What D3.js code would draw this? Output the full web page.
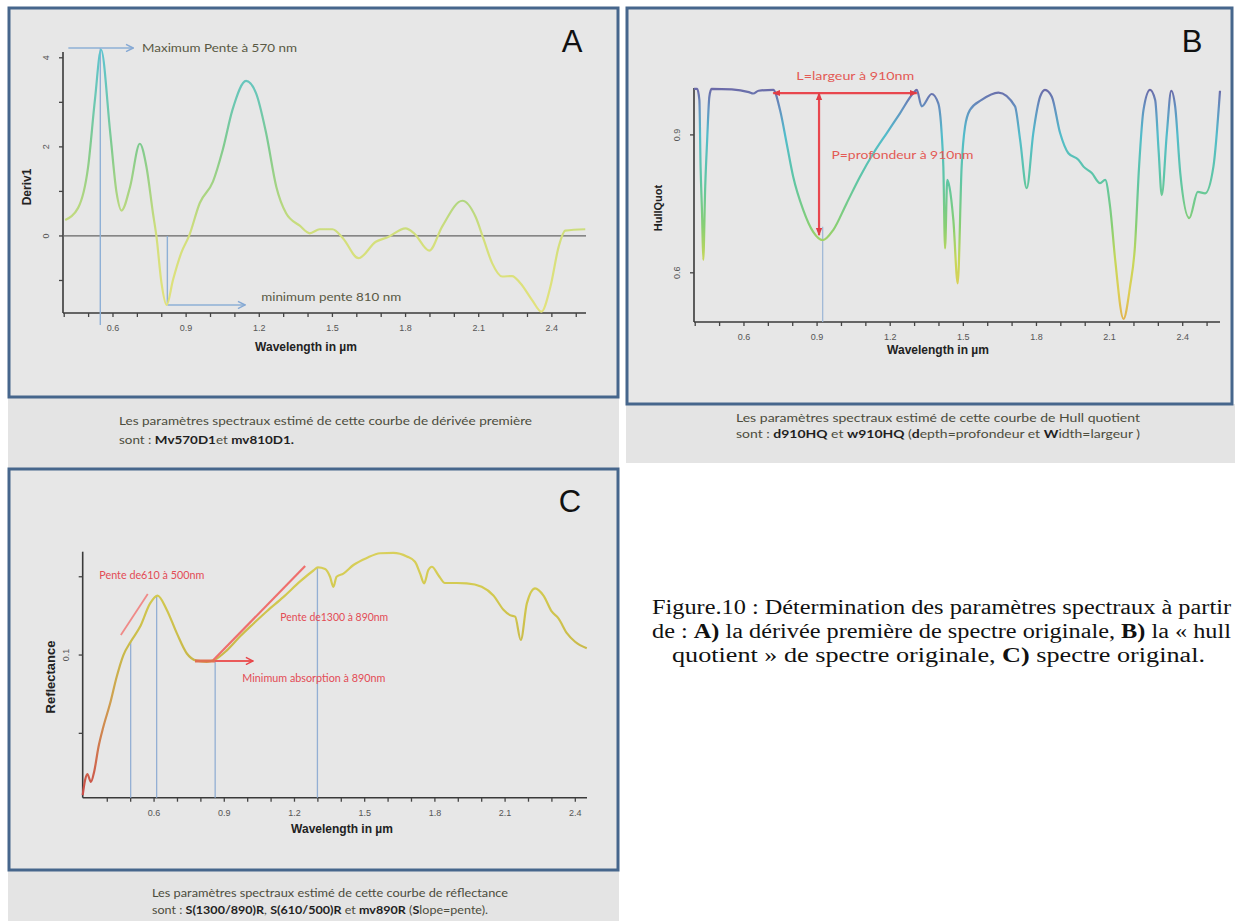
<!DOCTYPE html>
<html>
<head>
<meta charset="utf-8">
<script src="https://cdn.jsdelivr.net/npm/d3@7"></script>
<style>
  html, body { margin: 0; padding: 0; background: #ffffff; }
  svg { display: block; }
</style>
</head>
<body>
<svg id="chart" width="1235" height="921"></svg>
<script>
// ---------------- DATA ----------------
// Panel A : first derivative (Deriv1) vs wavelength (µm)
const waveA  = [0.404,0.457,0.498,0.526,0.551,0.589,0.615,0.635,0.67,0.71,0.737,0.764,0.778,0.799,0.82,0.846,0.88,0.912,0.956,1.01,1.05,1.09,1.146,1.187,1.228,1.27,1.31,1.366,1.407,1.448,1.5,1.543,1.607,1.678,1.726,1.80,1.835,1.897,1.95,2.033,2.087,2.121,2.155,2.196,2.237,2.271,2.319,2.357,2.394,2.428,2.455,2.537];
const derivA = [0.36,0.63,1.55,3.06,4.18,2.3,0.96,0.57,1.1,2.07,1.56,0.51,0,-1.06,-1.55,-0.99,-0.38,0,0.74,1.22,1.93,2.83,3.48,3.2,2.31,1.1,0.51,0.23,0.06,0.15,0.15,-0.05,-0.5,-0.13,-0.03,0.17,0.06,-0.33,0.21,0.79,0.43,-0.09,-0.61,-0.91,-0.9,-1.06,-1.44,-1.7,-1.14,-0.24,0.12,0.15];

// Panel B : hull quotient vs wavelength (µm)
const waveB = [0.395,0.408,0.417,0.422,0.428,0.433,0.441,0.449,0.458,0.467,0.55,0.62,0.638,0.66,0.72,0.748,0.775,0.802,0.843,0.884,0.923,0.966,1.021,1.076,1.131,1.186,1.24,1.295,1.309,1.329,1.37,1.397,1.411,1.418,1.425,1.434,1.443,1.459,1.477,1.493,1.507,1.527,1.575,1.644,1.712,1.733,1.76,1.787,1.815,1.835,1.863,1.897,1.931,1.972,1.993,2.027,2.061,2.082,2.102,2.123,2.157,2.184,2.204,2.221,2.239,2.266,2.287,2.301,2.314,2.335,2.353,2.369,2.39,2.427,2.462,2.492,2.526,2.553];
const hullB = [1.0,1.0,0.976,0.831,0.73,0.628,0.787,0.889,0.983,1.0,0.999,0.993,0.99,0.996,0.998,0.954,0.882,0.809,0.737,0.689,0.671,0.693,0.751,0.809,0.86,0.904,0.947,0.991,0.998,0.962,0.989,0.969,0.904,0.831,0.653,0.802,0.787,0.715,0.577,0.831,0.918,0.954,0.976,0.992,0.962,0.889,0.784,0.904,0.983,0.998,0.983,0.904,0.86,0.846,0.831,0.817,0.795,0.802,0.744,0.628,0.5,0.57,0.657,0.831,0.954,0.998,0.976,0.867,0.769,0.904,0.996,0.962,0.817,0.719,0.776,0.773,0.831,0.996];

// Panel C : reflectance vs wavelength (µm)
const waveC = [0.295,0.305,0.315,0.33,0.344,0.362,0.383,0.412,0.44,0.469,0.5,0.54,0.583,0.615,0.654,0.697,0.74,0.782,0.825,0.861,0.911,0.968,1.024,1.082,1.152,1.224,1.281,1.3,1.331,1.352,1.366,1.38,1.409,1.452,1.509,1.566,1.623,1.68,1.715,1.737,1.754,1.772,1.787,1.815,1.843,1.894,1.936,2.0,2.05,2.093,2.121,2.143,2.167,2.193,2.228,2.264,2.3,2.328,2.364,2.399,2.449];
const reflC = [0.0106,0.020,0.024,0.019,0.0255,0.041,0.054,0.069,0.086,0.1,0.1085,0.118,0.133,0.138,0.129,0.114,0.101,0.0964,0.0957,0.0972,0.103,0.112,0.120,0.128,0.137,0.147,0.154,0.156,0.155,0.150,0.1436,0.150,0.152,0.1575,0.162,0.165,0.1653,0.163,0.1596,0.152,0.1458,0.1543,0.1564,0.151,0.146,0.146,0.1458,0.1436,0.138,0.129,0.1255,0.1245,0.1096,0.133,0.1426,0.138,0.1277,0.1234,0.114,0.1085,0.1043];

// Tick labels
const xTickLabels = ["0.6","0.9","1.2","1.5","1.8","2.1","2.4"];
const xMinorTicks = [0.4,0.5,0.6,0.7,0.8,0.9,1.0,1.1,1.2,1.3,1.4,1.5,1.6,1.7,1.8,1.9,2.0,2.1,2.2,2.3,2.4,2.5];
const yTickLabelsA = ["0","2","4"];
const yMinorTicksA = [-1,1,3];
const yTickLabelsB = ["0.6","0.9"];
const yTickLabelsC = ["0.1"];
const yMinorTicksC = [0.05,0.15];

// Annotation texts
const captionA = ["Les paramètres spectraux estimé de cette courbe de dérivée première"];
const captionB = ["Les paramètres spectraux estimé de cette courbe de Hull quotient"];
const captionC = ["Les paramètres spectraux estimé de cette courbe de réflectance"];

// ---------------- DRAWING ----------------
const svg = d3.select("#chart");
const defs = svg.append("defs");
const FRAME = "#46668c", PANEL = "#e7e7e7", BAND = "#e4e4e4";
const SANS = "'Liberation Sans', Arial, sans-serif";
const CAP = "Lato, 'Open Sans', sans-serif";

// markers
function chevron(id, color) {
  defs.append("marker").attr("id", id).attr("viewBox", "0 0 10 10")
    .attr("refX", 9).attr("refY", 5).attr("markerWidth", 9).attr("markerHeight", 9)
    .attr("markerUnits", "userSpaceOnUse").attr("orient", "auto")
    .append("path").attr("d", "M1,1 L9,5 L1,9").attr("fill", "none")
    .attr("stroke", color).attr("stroke-width", 1.6);
}
function tri(id, color) {
  defs.append("marker").attr("id", id).attr("viewBox", "0 0 10 10")
    .attr("refX", 9).attr("refY", 5).attr("markerWidth", 8).attr("markerHeight", 8)
    .attr("markerUnits", "userSpaceOnUse").attr("orient", "auto-start-reverse")
    .append("path").attr("d", "M0,1 L10,5 L0,9 Z").attr("fill", color);
}
chevron("blueArrow", "#86a9d4");
chevron("redArrow", "#e8454a");
tri("redTri", "#e03c45");

// backgrounds: caption bands then panel frames
svg.append("rect").attr("x", 8).attr("y", 397).attr("width", 611).attr("height", 71).attr("fill", BAND);
svg.append("rect").attr("x", 626).attr("y", 404).attr("width", 609).attr("height", 59).attr("fill", BAND);
svg.append("rect").attr("x", 8).attr("y", 870).attr("width", 611).attr("height", 51).attr("fill", BAND);

function frame(x, y, w, h) {
  svg.append("rect").attr("x", x).attr("y", y).attr("width", w).attr("height", h)
    .attr("fill", PANEL).attr("stroke", FRAME).attr("stroke-width", 3);
}
frame(9, 8, 609, 389);
frame(627, 8, 605, 396);
frame(9, 469, 609, 401);

function gradient(id, yScale, stops) {
  const v0 = stops[0][0], v1 = stops[stops.length - 1][0];
  const g = defs.append("linearGradient").attr("id", id).attr("gradientUnits", "userSpaceOnUse")
    .attr("x1", 0).attr("x2", 0).attr("y1", yScale(v0)).attr("y2", yScale(v1));
  stops.forEach(s => g.append("stop").attr("offset", (s[0] - v0) / (v1 - v0)).attr("stop-color", s[1]));
}

function drawAxes(g, x, y, opt) {
  const [x0, x1] = x.range();
  const [yb, yt] = y.range();
  // axes lines
  g.append("line").attr("x1", x0).attr("x2", x1).attr("y1", yb).attr("y2", yb)
    .attr("stroke", "#3a3a3a").attr("stroke-width", 1.6);
  g.append("line").attr("x1", x0).attr("x2", x0).attr("y1", yb).attr("y2", yt)
    .attr("stroke", "#3a3a3a").attr("stroke-width", 1.6);
  // x ticks
  xMinorTicks.filter(t => t >= x.domain()[0] && t <= x.domain()[1]).forEach(t => {
    g.append("line").attr("x1", x(t)).attr("x2", x(t)).attr("y1", yb).attr("y2", yb + 4)
      .attr("stroke", "#444").attr("stroke-width", 1.3);
  });
  xTickLabels.forEach(l => {
    g.append("text").attr("x", x(+l)).attr("y", yb + 15).attr("dy", "0.35em")
      .attr("text-anchor", "middle").attr("font-family", SANS).attr("font-size", 9)
      .attr("fill", "#555").text(l);
  });
  // y ticks
  opt.yMinor.forEach(t => {
    g.append("line").attr("x1", x0 - 4).attr("x2", x0).attr("y1", y(t)).attr("y2", y(t))
      .attr("stroke", "#444").attr("stroke-width", 1.3);
  });
  opt.yLabels.forEach(l => {
    g.append("line").attr("x1", x0 - 4).attr("x2", x0).attr("y1", y(+l)).attr("y2", y(+l))
      .attr("stroke", "#444").attr("stroke-width", 1.3);
    g.append("text").attr("transform", `translate(${x0 - 14},${y(+l)}) rotate(-90)`)
      .attr("text-anchor", "middle").attr("font-family", SANS).attr("font-size", 9)
      .attr("fill", "#555").text(l);
  });
  // titles
  g.append("text").attr("x", opt.xtPos[0]).attr("y", opt.xtPos[1]).attr("dy", "0.35em")
    .attr("text-anchor", "middle").attr("font-family", SANS).attr("font-weight", "bold")
    .attr("font-size", 12).attr("fill", "#222").text("Wavelength in µm");
  g.append("text").attr("transform", `translate(${opt.ytPos[0]},${opt.ytPos[1]}) rotate(-90)`)
    .attr("dy", "0.35em").attr("text-anchor", "middle").attr("font-family", SANS)
    .attr("font-weight", "bold").attr("font-size", opt.ytSize).attr("fill", "#222").text(opt.yTitle);
}

function label(g, txt, x, y, w, color, size) {
  g.append("text").attr("x", x).attr("y", y).attr("dy", "0.35em")
    .attr("font-family", CAP).attr("font-size", size || 10.5).attr("fill", color)
    .attr("textLength", w).attr("lengthAdjust", "spacingAndGlyphs").text(txt);
}
function letter(txt, cx, base) {
  svg.append("text").attr("x", cx).attr("y", base).attr("text-anchor", "middle")
    .attr("font-family", SANS).attr("font-size", 31).attr("fill", "#111").text(txt);
}

// ===== Panel A =====
const gA = svg.append("g");
const xA = d3.scaleLinear().domain([0.395, 2.54]).range([63, 586]);
const yA = d3.scaleLinear().domain([-1.73, 4.13]).range([313, 52]);
gradient("gradA", yA, [[-1.8, "#e3e27c"], [0, "#d3df7c"], [1, "#a8d482"], [2, "#80cb8e"], [3, "#6cc7b2"], [4.2, "#5ec4cf"]]);
drawAxes(gA, xA, yA, { yMinor: yMinorTicksA, yLabels: yTickLabelsA, xtPos: [306, 347], ytPos: [27, 187], yTitle: "Deriv1", ytSize: 12 });
// zero line
gA.append("line").attr("x1", xA(0.395)).attr("x2", xA(2.54)).attr("y1", yA(0)).attr("y2", yA(0))
  .attr("stroke", "#666").attr("stroke-width", 1.3);
// annotation lines
gA.append("line").attr("x1", xA(0.548)).attr("x2", xA(0.548)).attr("y1", yA(4.22)).attr("y2", yA(-2.0))
  .attr("stroke", "#8eb0d6").attr("stroke-width", 1.4);
gA.append("line").attr("x1", xA(0.417)).attr("x2", xA(0.683)).attr("y1", yA(4.22)).attr("y2", yA(4.22))
  .attr("stroke", "#8eb0d6").attr("stroke-width", 1.6).attr("marker-end", "url(#blueArrow)");
gA.append("line").attr("x1", xA(0.823)).attr("x2", xA(0.823)).attr("y1", yA(0)).attr("y2", yA(-1.55))
  .attr("stroke", "#8eb0d6").attr("stroke-width", 1.4);
gA.append("line").attr("x1", xA(0.823)).attr("x2", xA(1.142)).attr("y1", yA(-1.55)).attr("y2", yA(-1.55))
  .attr("stroke", "#8eb0d6").attr("stroke-width", 1.6).attr("marker-end", "url(#blueArrow)");
// curve
const lineA = d3.line().x((d, i) => xA(waveA[i])).y(d => yA(d)).curve(d3.curveMonotoneX);
gA.append("path").attr("d", lineA(derivA)).attr("fill", "none").attr("stroke", "url(#gradA)")
  .attr("stroke-width", 2.2).attr("stroke-linejoin", "round");
label(gA, "Maximum Pente à 570 nm", xA(0.719), yA(4.22), 155, "#595944", 11);
label(gA, "minimum pente 810 nm", xA(1.208), yA(-1.37), 140, "#595944", 11);
letter("A", 572, 52);

// ===== Panel B =====
const gB = svg.append("g");
const xB = d3.scaleLinear().domain([0.395, 2.553]).range([694, 1220]);
const yB = d3.scaleLinear().domain([0.493, 1.002]).range([322, 88]);
gradient("gradB", yB, [[0.49, "#e2b04e"], [0.56, "#ddcf55"], [0.63, "#c5d75a"], [0.7, "#88cf72"], [0.8, "#5fc6a4"], [0.9, "#52bccb"], [0.96, "#6390c0"], [1.0, "#6b6aa8"]]);
drawAxes(gB, xB, yB, { yMinor: [], yLabels: yTickLabelsB, xtPos: [938, 350], ytPos: [658, 208], yTitle: "HullQuot", ytSize: 11 });
gB.append("line").attr("x1", xB(0.923)).attr("x2", xB(0.923)).attr("y1", yB(0.70)).attr("y2", yB(0.493))
  .attr("stroke", "#9bb6d6").attr("stroke-width", 1.2);
const lineB = d3.line().x((d, i) => xB(waveB[i])).y(d => yB(d)).curve(d3.curveMonotoneX);
gB.append("path").attr("d", lineB(hullB)).attr("fill", "none").attr("stroke", "url(#gradB)")
  .attr("stroke-width", 2.2).attr("stroke-linejoin", "round");
gB.append("line").attr("x1", xB(0.72)).attr("x2", xB(1.309)).attr("y1", yB(0.991)).attr("y2", yB(0.991))
  .attr("stroke", "#e8474e").attr("stroke-width", 2.2)
  .attr("marker-start", "url(#redTri)").attr("marker-end", "url(#redTri)");
gB.append("line").attr("x1", xB(0.908)).attr("x2", xB(0.908)).attr("y1", yB(0.991)).attr("y2", yB(0.682))
  .attr("stroke", "#e8474e").attr("stroke-width", 2.2)
  .attr("marker-start", "url(#redTri)").attr("marker-end", "url(#redTri)");
label(gB, "L=largeur à 910nm", xB(0.815), yB(1.027), 118, "#e35a55", 11);
label(gB, "P=profondeur à 910nm", xB(0.959), yB(0.857), 142, "#e35a55", 11);
letter("B", 1192, 52);

// ===== Panel C =====
const gC = svg.append("g");
const xC = d3.scaleLinear().domain([0.295, 2.45]).range([82.7, 587]);
const yC = d3.scaleLinear().domain([0.0089, 0.166]).range([797.7, 551.7]);
gradient("gradC", yC, [[0.008, "#c94848"], [0.035, "#d0704e"], [0.07, "#cf9f50"], [0.1, "#c9b94a"], [0.14, "#d2c94f"], [0.167, "#d9d05c"]]);
drawAxes(gC, xC, yC, { yMinor: yMinorTicksC, yLabels: yTickLabelsC, xtPos: [342, 829], ytPos: [50, 677], yTitle: "Reflectance", ytSize: 13 });
// vertical markers
[[0.5, 0.1085], [0.611, 0.138], [0.861, 0.0972], [1.298, 0.156]].forEach(p => {
  gC.append("line").attr("x1", xC(p[0])).attr("x2", xC(p[0])).attr("y1", yC(p[1])).attr("y2", yC(0.0089))
    .attr("stroke", "#93afd4").attr("stroke-width", 1.3);
});
const lineC = d3.line().x((d, i) => xC(waveC[i])).y(d => yC(d)).curve(d3.curveMonotoneX);
gC.append("path").attr("d", lineC(reflC)).attr("fill", "none").attr("stroke", "url(#gradC)")
  .attr("stroke-width", 2.2).attr("stroke-linejoin", "round");
// slope lines
gC.append("line").attr("x1", xC(0.458)).attr("x2", xC(0.573)).attr("y1", yC(0.1128)).attr("y2", yC(0.139))
  .attr("stroke", "#f08a88").attr("stroke-width", 1.8);
gC.append("line").attr("x1", xC(0.8535)).attr("x2", xC(1.2456)).attr("y1", yC(0.0968)).attr("y2", yC(0.1568))
  .attr("stroke", "#ef6f6d").attr("stroke-width", 2.2);
// minimum absorption arrow
gC.append("line").attr("x1", xC(0.775)).attr("x2", xC(0.86)).attr("y1", yC(0.0962)).attr("y2", yC(0.0962))
  .attr("stroke", "#e07050").attr("stroke-width", 3);
gC.append("line").attr("x1", xC(0.86)).attr("x2", xC(1.023)).attr("y1", yC(0.0962)).attr("y2", yC(0.0962))
  .attr("stroke", "#ea5a5a").attr("stroke-width", 1.8).attr("marker-end", "url(#redArrow)");
label(gC, "Pente de610 à 500nm", xC(0.366), yC(0.1512), 105, "#e34b55", 10.5);
label(gC, "Pente de1300 à 890nm", xC(1.139), yC(0.1244), 108, "#e34b55", 10.5);
label(gC, "Minimum absorption à 890nm", xC(0.977), yC(0.0854), 143, "#e34b55", 10.5);
letter("C", 570, 512);

// ===== Captions =====
function capLine(parts, x, y, w) {
  const t = svg.append("text").attr("x", x).attr("y", y).attr("dy", "0.35em")
    .attr("font-family", CAP).attr("font-size", 12).attr("fill", "#4c4c3c")
    .attr("textLength", w).attr("lengthAdjust", "spacingAndGlyphs");
  parts.forEach(p => t.append("tspan").attr("font-weight", p[1] ? "bold" : "normal")
    .attr("fill", p[1] ? "#1f1f1f" : "#4c4c3c").text(p[0]));
}
capLine([[captionA[0], false]], 119, 421, 413);
capLine([["sont : ", false], ["Mv570D1", true], ["et ", false], ["mv810D1.", true]], 119, 440, 175);
capLine([[captionB[0], false]], 736, 418, 404);
capLine([["sont : ", false], ["d910HQ", true], [" et ", false], ["w910HQ", true], [" (", false], ["d", true], ["epth=profondeur  et ", false], ["W", true], ["idth=largeur )", false]], 736, 434, 404);
capLine([[captionC[0], false]], 152, 893, 356);
capLine([["sont : ", false], ["S(1300/890)R", true], [", ", false], ["S(610/500)R", true], [" et ", false], ["mv890R", true], [" (", false], ["S", true], ["lope=pente).", false]], 152, 910, 336);

// ===== Figure legend (right) =====
function serifLine(parts, x, y, w) {
  const t = svg.append("text").attr("x", x).attr("y", y)
    .attr("font-family", "'Liberation Serif', 'Times New Roman', serif").attr("font-size", 20.5)
    .attr("fill", "#111").attr("textLength", w).attr("lengthAdjust", "spacingAndGlyphs");
  parts.forEach(p => t.append("tspan").attr("font-weight", p[1] ? "bold" : "normal").text(p[0]));
}
serifLine([["Figure.10 : Détermination des paramètres spectraux à partir", false]], 652, 614, 579);
serifLine([["de : ", false], ["A)", true], [" la dérivée première de spectre originale, ", false], ["B)", true], [" la « hull", false]], 652, 638, 579);
serifLine([["quotient » de spectre originale, ", false], ["C)", true], [" spectre original.", false]], 672, 662, 533);
</script>
</body>
</html>
